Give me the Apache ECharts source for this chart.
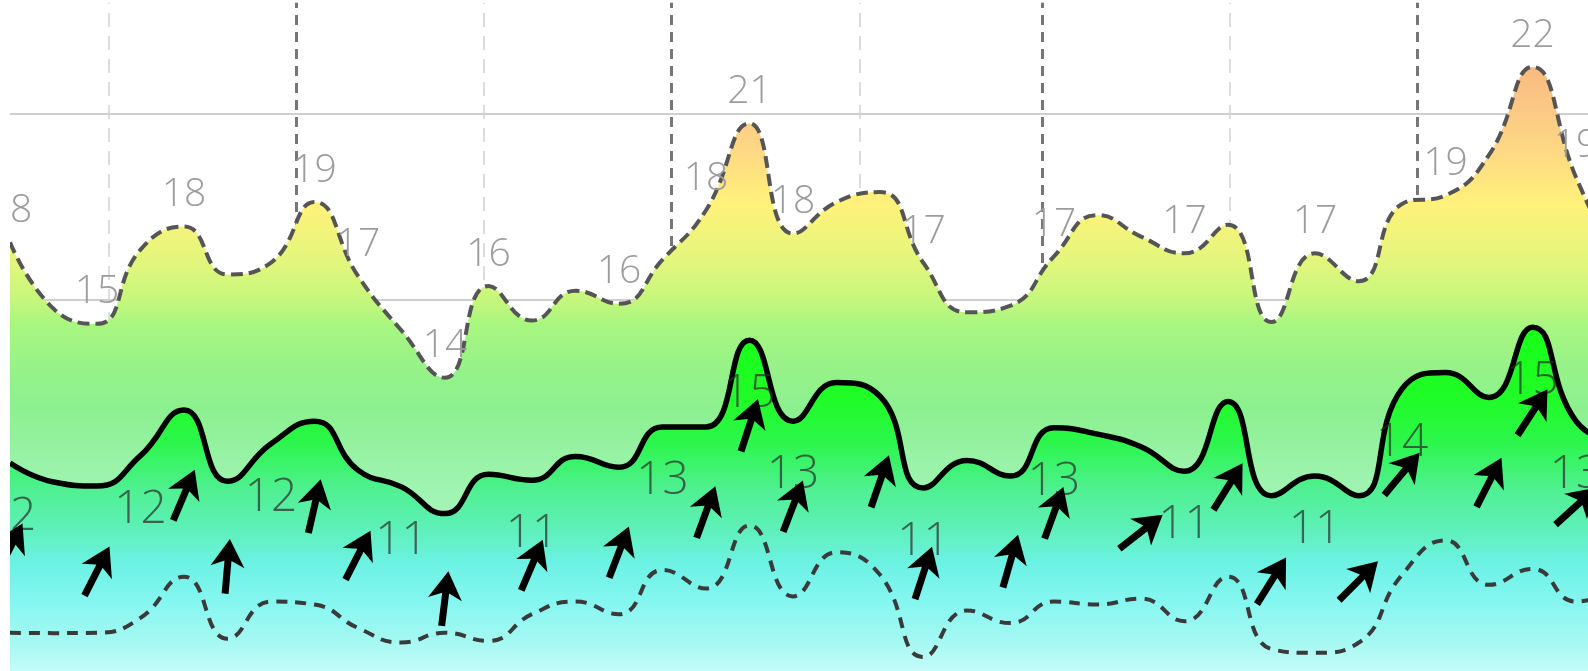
<!DOCTYPE html>
<html>
<head>
<meta charset="utf-8">
<script src="https://cdn.jsdelivr.net/npm/echarts@6/dist/echarts.min.js"></script>
<style>
html,body{margin:0;padding:0;background:#fff;}
#chart{width:1588px;height:671px;}
</style>
</head>
<body>
<div id="chart"></div>
<script>
// ---- data (one entry per forecast slot) ----
const gust = [17.55, 15.76, 15.35, 17.35, 17.97, 16.68, 17.0, 18.63, 16.64, 15.17,
              13.9, 16.37, 15.44, 16.24, 15.89, 17.08, 18.41, 20.75, 17.78, 18.63,
              18.9, 16.99, 15.66, 15.84, 17.17, 18.28, 17.7, 17.25, 18.02, 15.4,
              17.25, 16.5, 18.58, 18.81, 19.9, 22.27, 19.3, 16.8];
const wind = [11.6, 11.09, 10.98, 11.8, 13.03, 11.11, 12.12, 12.73, 11.41, 10.96,
              10.24, 11.3, 11.14, 11.78, 11.49, 12.57, 12.57, 14.91, 12.73, 13.77,
              13.4, 10.93, 11.67, 11.25, 12.55, 12.38, 12.04, 11.38, 13.26, 10.72,
              11.25, 10.72, 13.6, 14.04, 13.37, 15.26, 12.73, 12.1];
const windMin = [7.03, 7.02, 7.03, 7.43, 8.54, 6.87, 7.87, 7.79, 7.16, 6.77,
                 7.03, 6.81, 7.53, 7.87, 7.53, 8.72, 8.22, 9.92, 8.01, 9.2,
                 8.59, 6.38, 7.63, 7.29, 7.87, 7.79, 7.95, 7.34, 8.54, 6.59,
                 6.49, 6.76, 8.59, 9.52, 8.32, 8.75, 7.87, 8.2];
// direction the arrow points to, degrees clockwise from north (null = no arrow)
const windDir = [27, null, 27, null, 23, 5, null, 13, 27, null,
                 7, null, 23, null, 21, null, 20, 18, 21, null,
                 19, 18, null, 16, 20, null, 52, null, 32, 32,
                 null, 45, 40, null, 27, 33, 48, null];
const gustLabelIdx = [0, 2, 4, 7, 8, 10, 11, 14, 16, 17, 18, 21, 24, 27, 30, 33, 35, 36];
const windLabelIdx = [0, 3, 6, 9, 12, 15, 17, 18, 21, 24, 27, 30, 32, 35, 36];
const dayLines = [6.57, 15.21, 23.73, 32.35];
const halfDayLines = [2.26, 10.90, 19.54, 28.05];
const levelLines = [11, 16, 21];

// ---- styling ----
const H = 671;
function grad(stops) {
  return new echarts.graphic.LinearGradient(0, 0, 0, H,
    stops.map(s => ({offset: s[0] / H, color: s[1]})), true);
}
const gustGrad = grad([
  [60, '#f8b87e'], [100, '#fbc584'], [150, '#fdd884'], [205, '#fff27a'],
  [262, '#e2f67c'], [298, '#c8f67c'], [325, '#a8f680'], [370, '#96f288'],
  [410, '#8cf090'], [450, '#96f2a2'], [490, '#a0f4b2'], [671, '#c0f8e0']
]);
const windGrad = grad([
  [330, '#18ff18'], [400, '#20fc28'], [443, '#2cf64c'], [490, '#50f092'],
  [524, '#5cf0b4'], [564, '#6cf2e4'], [600, '#84f6f0'], [640, '#a4f8f2'], [671, '#c4fcf8']
]);
const fontBase = {fontFamily: "'Open Sans', sans-serif", fontWeight: 300, opacity: 1};
const arrowPath = 'path://M17 0 L34 28 L20.5 22 L20.5 55 L13.5 55 L13.5 22 L0 28 Z';

function gridLines(opacity) {
  const dark = {color: '#777', width: 3, type: [10, 7], opacity: opacity};
  const light = {color: '#d4d4d4', width: 1.5, type: [14, 9], opacity: opacity};
  const level = {color: '#cfcfcf', width: 2, type: 'solid', opacity: opacity};
  return []
    .concat(levelLines.map(v => ({yAxis: v, lineStyle: level})))
    .concat(halfDayLines.map(v => ({xAxis: v, lineStyle: light})))
    .concat(dayLines.map(v => ({xAxis: v, lineStyle: dark})));
}
function markLineOf(z, opacity) {
  return {
    z: z, silent: true, symbol: ['none', 'none'], animation: false,
    label: {show: false}, emphasis: {disabled: true},
    data: gridLines(opacity)
  };
}
const fmt = p => Math.round(p.value[1]);

const chart = echarts.init(document.getElementById('chart'), null, {renderer: 'canvas'});
chart.setOption({
  animation: false,
  grid: {left: 10, right: 0, top: 2.72, bottom: -9.6},
  xAxis: {type: 'value', min: 0, max: 36.276, show: false},
  yAxis: {type: 'value', min: 6, max: 24, show: false},
  graphic: [{type: 'rect', left: 0, top: 0, z: 100, silent: true,
             shape: {width: 10, height: H}, style: {fill: '#fff'}}],
  series: [
    {type: 'line', name: 'gridBack', data: [], silent: true, markLine: markLineOf(1, 1)},
    {
      type: 'line', name: 'gust', smooth: true, silent: true,
      symbol: 'circle', symbolSize: 2, showSymbol: true, showAllSymbol: true,
      itemStyle: {opacity: 0},
      lineStyle: {color: '#555', width: 4, type: [12, 6]},
      areaStyle: {color: gustGrad, opacity: 1},
      label: Object.assign({position: 'top', distance: 11, fontSize: 39, color: '#9c9c9c', formatter: fmt}, fontBase),
      data: gust.map((v, i) => ({value: [i, v], label: {show: gustLabelIdx.includes(i)}}))
    },
    {
      type: 'line', name: 'wind', smooth: true, silent: true,
      symbol: 'circle', symbolSize: 2, showSymbol: true, showAllSymbol: true,
      itemStyle: {opacity: 0},
      lineStyle: {color: '#000', width: 5.5},
      areaStyle: {color: windGrad, opacity: 1},
      label: Object.assign({position: 'bottom', distance: 30, fontSize: 46, color: 'rgba(45,45,45,0.72)', formatter: fmt}, fontBase),
      data: wind.map((v, i) => ({value: [i, v], label: {show: windLabelIdx.includes(i)}}))
    },
    {
      type: 'line', name: 'windMin', smooth: true, symbol: 'none', silent: true,
      lineStyle: {color: '#3a3a3a', width: 4, type: [11, 8]},
      data: windMin.map((v, i) => [i, v])
    },
    {type: 'line', name: 'gridFront', data: [], silent: true, markLine: markLineOf(3, 0.13)},
    {
      type: 'scatter', name: 'direction', silent: true, clip: false, z: 4,
      symbol: arrowPath, symbolSize: [34, 55], symbolKeepAspect: false,
      symbolOffset: [0, 85],
      itemStyle: {color: '#000', opacity: 1},
      data: windDir.map((d, i) => d == null ? null : {value: [i, wind[i]], symbolRotate: -d})
                   .filter(x => x)
    }
  ]
});
</script>
</body>
</html>
